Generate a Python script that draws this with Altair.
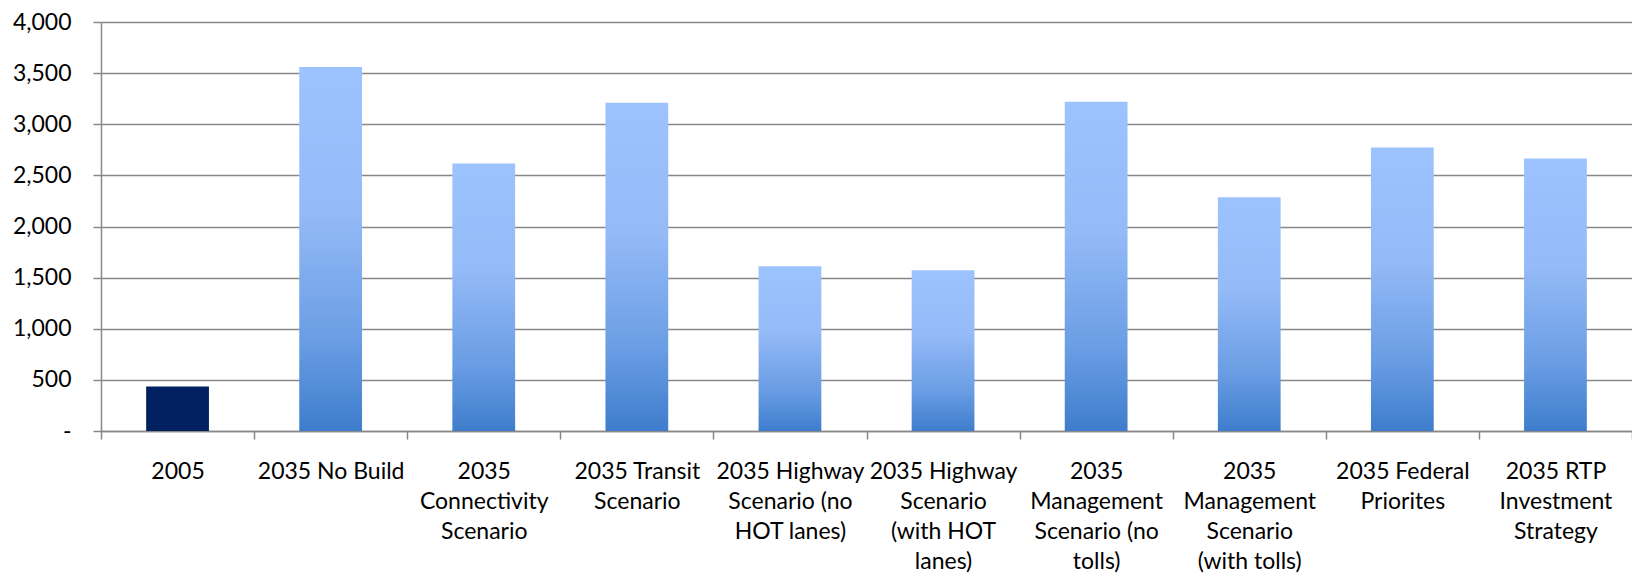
import altair as alt
import pandas as pd

categories = [
    "2005",
    "2035 No Build",
    "2035|Connectivity|Scenario",
    "2035 Transit|Scenario",
    "2035 Highway|Scenario (no|HOT lanes)",
    "2035 Highway|Scenario|(with  HOT|lanes)",
    "2035|Management|Scenario (no|tolls)",
    "2035|Management|Scenario|(with tolls)",
    "2035 Federal|Priorites",
    "2035 RTP|Investment|Strategy",
]
values = [435, 3559, 2617, 3210, 1612, 1573, 3220, 2287, 2772, 2666]
kinds = ["base"] + ["scenario"] * 9

df = pd.DataFrame({"category": categories, "value": values, "kind": kinds})

FONT = "Lato"
GRAY = "#888888"

x = alt.X(
    "category:N",
    sort=categories,
    title=None,
    scale=alt.Scale(paddingInner=0, paddingOuter=0),
    axis=alt.Axis(
        labelAngle=0,
        labelExpr="split(datum.label, '|')",
        tickBand="extent",
        tickSize=8,
        tickColor=GRAY,
        tickWidth=1.5,
        domainColor=GRAY,
        domainWidth=1.5,
        labelFont=FONT,
        labelFontSize=23,
        labelColor="#000000",
        labelLineHeight=30,
        labelPadding=21,
        labelLimit=400,
        labelOverlap=False,
    ),
)
y = alt.Y(
    "value:Q",
    title=None,
    scale=alt.Scale(domain=[0, 4000], nice=False),
    axis=alt.Axis(
        values=[0, 500, 1000, 1500, 2000, 2500, 3000, 3500, 4000],
        labelExpr="datum.value == 0 ? '-\u2007\u2007' : format(datum.value, ',')",
        grid=True,
        gridColor=GRAY,
        gridWidth=1.5,
        tickSize=8,
        tickColor=GRAY,
        tickWidth=1.5,
        domainColor=GRAY,
        domainWidth=1.5,
        labelFont=FONT,
        labelFontSize=23,
        labelColor="#000000",
        labelPadding=22,
    ),
)

base = alt.Chart(df).encode(x=x, y=y)

gradient = alt.Gradient(
    gradient="linear",
    x1=0, x2=0, y1=0, y2=1,
    stops=[
        alt.GradientStop(color="#9dc3ff", offset=0),
        alt.GradientStop(color="#94baf7", offset=0.4),
        alt.GradientStop(color="#6a9de4", offset=0.75),
        alt.GradientStop(color="#3e7dcc", offset=1),
    ],
)

bars_base = base.transform_filter(alt.datum.kind == "base").mark_bar(
    color="#002060", width=alt.RelativeBandSize(0.41)
)
bars_scen = base.transform_filter(alt.datum.kind == "scenario").mark_bar(
    color=gradient, width=alt.RelativeBandSize(0.41)
)

chart = (
    alt.layer(bars_base, bars_scen)
    .properties(
        width=1531,
        height=409,
        autosize=alt.AutoSizeParams(type="none"),
        padding={"left": 93, "top": 14, "right": 0, "bottom": 147},
        background="#ffffff",
    )
    .configure_view(stroke=None)
)

chart.save("out.html", embed_options={"renderer": "svg", "actions": False})
